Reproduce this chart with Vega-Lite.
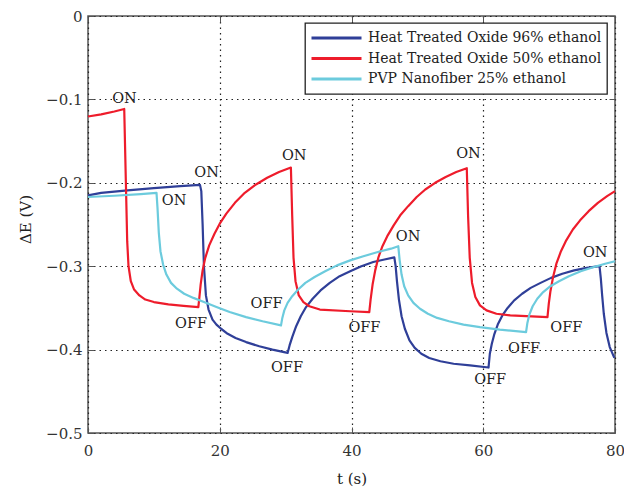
{
  "$schema": "https://vega.github.io/schema/vega-lite/v6.json",
  "width": 527,
  "height": 417,
  "autosize": {"type": "none"},
  "padding": {"left": 88, "top": 16, "right": 9, "bottom": 59},
  "background": "white",
  "config": {
    "font": "DejaVu Serif",
    "view": {"stroke": "#555", "strokeWidth": 1.5}
  },
  "datasets": {
    "curves": [
      {"s": "Heat Treated Oxide 96% ethanol", "t": 0, "v": -0.215},
      {"s": "Heat Treated Oxide 96% ethanol", "t": 2, "v": -0.212},
      {"s": "Heat Treated Oxide 96% ethanol", "t": 6, "v": -0.209},
      {"s": "Heat Treated Oxide 96% ethanol", "t": 10, "v": -0.2065},
      {"s": "Heat Treated Oxide 96% ethanol", "t": 14, "v": -0.204},
      {"s": "Heat Treated Oxide 96% ethanol", "t": 17.0, "v": -0.2025},
      {"s": "Heat Treated Oxide 96% ethanol", "t": 17.2, "v": -0.21},
      {"s": "Heat Treated Oxide 96% ethanol", "t": 17.4, "v": -0.25},
      {"s": "Heat Treated Oxide 96% ethanol", "t": 17.6, "v": -0.3},
      {"s": "Heat Treated Oxide 96% ethanol", "t": 17.9, "v": -0.335},
      {"s": "Heat Treated Oxide 96% ethanol", "t": 18.3, "v": -0.352},
      {"s": "Heat Treated Oxide 96% ethanol", "t": 18.9, "v": -0.364},
      {"s": "Heat Treated Oxide 96% ethanol", "t": 19.5, "v": -0.37},
      {"s": "Heat Treated Oxide 96% ethanol", "t": 20.2, "v": -0.375},
      {"s": "Heat Treated Oxide 96% ethanol", "t": 21.2, "v": -0.381},
      {"s": "Heat Treated Oxide 96% ethanol", "t": 22.4, "v": -0.386},
      {"s": "Heat Treated Oxide 96% ethanol", "t": 24, "v": -0.391},
      {"s": "Heat Treated Oxide 96% ethanol", "t": 26, "v": -0.396},
      {"s": "Heat Treated Oxide 96% ethanol", "t": 28, "v": -0.4},
      {"s": "Heat Treated Oxide 96% ethanol", "t": 30.3, "v": -0.404},
      {"s": "Heat Treated Oxide 96% ethanol", "t": 30.6, "v": -0.395},
      {"s": "Heat Treated Oxide 96% ethanol", "t": 31.0, "v": -0.385},
      {"s": "Heat Treated Oxide 96% ethanol", "t": 31.6, "v": -0.372},
      {"s": "Heat Treated Oxide 96% ethanol", "t": 32.3, "v": -0.36},
      {"s": "Heat Treated Oxide 96% ethanol", "t": 33.1, "v": -0.349},
      {"s": "Heat Treated Oxide 96% ethanol", "t": 34.1, "v": -0.339},
      {"s": "Heat Treated Oxide 96% ethanol", "t": 35.3, "v": -0.329},
      {"s": "Heat Treated Oxide 96% ethanol", "t": 36.7, "v": -0.32},
      {"s": "Heat Treated Oxide 96% ethanol", "t": 38.2, "v": -0.312},
      {"s": "Heat Treated Oxide 96% ethanol", "t": 39.8, "v": -0.306},
      {"s": "Heat Treated Oxide 96% ethanol", "t": 41.5, "v": -0.3},
      {"s": "Heat Treated Oxide 96% ethanol", "t": 43.3, "v": -0.295},
      {"s": "Heat Treated Oxide 96% ethanol", "t": 45, "v": -0.292},
      {"s": "Heat Treated Oxide 96% ethanol", "t": 46.5, "v": -0.2895},
      {"s": "Heat Treated Oxide 96% ethanol", "t": 46.7, "v": -0.3},
      {"s": "Heat Treated Oxide 96% ethanol", "t": 46.9, "v": -0.318},
      {"s": "Heat Treated Oxide 96% ethanol", "t": 47.2, "v": -0.34},
      {"s": "Heat Treated Oxide 96% ethanol", "t": 47.6, "v": -0.36},
      {"s": "Heat Treated Oxide 96% ethanol", "t": 48.1, "v": -0.375},
      {"s": "Heat Treated Oxide 96% ethanol", "t": 48.8, "v": -0.389},
      {"s": "Heat Treated Oxide 96% ethanol", "t": 49.6, "v": -0.398},
      {"s": "Heat Treated Oxide 96% ethanol", "t": 50.6, "v": -0.405},
      {"s": "Heat Treated Oxide 96% ethanol", "t": 51.8, "v": -0.41},
      {"s": "Heat Treated Oxide 96% ethanol", "t": 53.5, "v": -0.414},
      {"s": "Heat Treated Oxide 96% ethanol", "t": 55.5, "v": -0.417},
      {"s": "Heat Treated Oxide 96% ethanol", "t": 58, "v": -0.419},
      {"s": "Heat Treated Oxide 96% ethanol", "t": 60.8, "v": -0.4215},
      {"s": "Heat Treated Oxide 96% ethanol", "t": 61.0, "v": -0.405},
      {"s": "Heat Treated Oxide 96% ethanol", "t": 61.3, "v": -0.393},
      {"s": "Heat Treated Oxide 96% ethanol", "t": 61.7, "v": -0.381},
      {"s": "Heat Treated Oxide 96% ethanol", "t": 62.2, "v": -0.37},
      {"s": "Heat Treated Oxide 96% ethanol", "t": 62.9, "v": -0.359},
      {"s": "Heat Treated Oxide 96% ethanol", "t": 63.7, "v": -0.35},
      {"s": "Heat Treated Oxide 96% ethanol", "t": 64.7, "v": -0.341},
      {"s": "Heat Treated Oxide 96% ethanol", "t": 65.9, "v": -0.333},
      {"s": "Heat Treated Oxide 96% ethanol", "t": 67.2, "v": -0.326},
      {"s": "Heat Treated Oxide 96% ethanol", "t": 68.7, "v": -0.32},
      {"s": "Heat Treated Oxide 96% ethanol", "t": 70.3, "v": -0.314},
      {"s": "Heat Treated Oxide 96% ethanol", "t": 72, "v": -0.309},
      {"s": "Heat Treated Oxide 96% ethanol", "t": 73.8, "v": -0.305},
      {"s": "Heat Treated Oxide 96% ethanol", "t": 75.7, "v": -0.302},
      {"s": "Heat Treated Oxide 96% ethanol", "t": 77.65, "v": -0.3},
      {"s": "Heat Treated Oxide 96% ethanol", "t": 77.85, "v": -0.315},
      {"s": "Heat Treated Oxide 96% ethanol", "t": 78.05, "v": -0.335},
      {"s": "Heat Treated Oxide 96% ethanol", "t": 78.3, "v": -0.357},
      {"s": "Heat Treated Oxide 96% ethanol", "t": 78.7, "v": -0.38},
      {"s": "Heat Treated Oxide 96% ethanol", "t": 79.2, "v": -0.397},
      {"s": "Heat Treated Oxide 96% ethanol", "t": 79.9, "v": -0.41},

      {"s": "Heat Treated Oxide 50% ethanol", "t": 0, "v": -0.1205},
      {"s": "Heat Treated Oxide 50% ethanol", "t": 2, "v": -0.118},
      {"s": "Heat Treated Oxide 50% ethanol", "t": 4, "v": -0.1145},
      {"s": "Heat Treated Oxide 50% ethanol", "t": 5.5, "v": -0.1115},
      {"s": "Heat Treated Oxide 50% ethanol", "t": 5.75, "v": -0.2},
      {"s": "Heat Treated Oxide 50% ethanol", "t": 5.95, "v": -0.27},
      {"s": "Heat Treated Oxide 50% ethanol", "t": 6.15, "v": -0.3},
      {"s": "Heat Treated Oxide 50% ethanol", "t": 6.5, "v": -0.318},
      {"s": "Heat Treated Oxide 50% ethanol", "t": 7.0, "v": -0.328},
      {"s": "Heat Treated Oxide 50% ethanol", "t": 7.8, "v": -0.335},
      {"s": "Heat Treated Oxide 50% ethanol", "t": 8.7, "v": -0.34},
      {"s": "Heat Treated Oxide 50% ethanol", "t": 10, "v": -0.343},
      {"s": "Heat Treated Oxide 50% ethanol", "t": 12.2, "v": -0.3457},
      {"s": "Heat Treated Oxide 50% ethanol", "t": 14.5, "v": -0.3475},
      {"s": "Heat Treated Oxide 50% ethanol", "t": 16.75, "v": -0.349},
      {"s": "Heat Treated Oxide 50% ethanol", "t": 16.9, "v": -0.338},
      {"s": "Heat Treated Oxide 50% ethanol", "t": 17.1, "v": -0.322},
      {"s": "Heat Treated Oxide 50% ethanol", "t": 17.4, "v": -0.305},
      {"s": "Heat Treated Oxide 50% ethanol", "t": 17.8, "v": -0.29},
      {"s": "Heat Treated Oxide 50% ethanol", "t": 18.4, "v": -0.275},
      {"s": "Heat Treated Oxide 50% ethanol", "t": 19.2, "v": -0.261},
      {"s": "Heat Treated Oxide 50% ethanol", "t": 20.0, "v": -0.249},
      {"s": "Heat Treated Oxide 50% ethanol", "t": 21.0, "v": -0.237},
      {"s": "Heat Treated Oxide 50% ethanol", "t": 22.3, "v": -0.224},
      {"s": "Heat Treated Oxide 50% ethanol", "t": 23.8, "v": -0.212},
      {"s": "Heat Treated Oxide 50% ethanol", "t": 25.5, "v": -0.202},
      {"s": "Heat Treated Oxide 50% ethanol", "t": 27.2, "v": -0.194},
      {"s": "Heat Treated Oxide 50% ethanol", "t": 29.0, "v": -0.187},
      {"s": "Heat Treated Oxide 50% ethanol", "t": 30.8, "v": -0.1817},
      {"s": "Heat Treated Oxide 50% ethanol", "t": 31.0, "v": -0.24},
      {"s": "Heat Treated Oxide 50% ethanol", "t": 31.2, "v": -0.29},
      {"s": "Heat Treated Oxide 50% ethanol", "t": 31.5, "v": -0.318},
      {"s": "Heat Treated Oxide 50% ethanol", "t": 32.0, "v": -0.335},
      {"s": "Heat Treated Oxide 50% ethanol", "t": 32.7, "v": -0.343},
      {"s": "Heat Treated Oxide 50% ethanol", "t": 33.6, "v": -0.348},
      {"s": "Heat Treated Oxide 50% ethanol", "t": 35.2, "v": -0.352},
      {"s": "Heat Treated Oxide 50% ethanol", "t": 39.8, "v": -0.354},
      {"s": "Heat Treated Oxide 50% ethanol", "t": 42.7, "v": -0.355},
      {"s": "Heat Treated Oxide 50% ethanol", "t": 42.9, "v": -0.34},
      {"s": "Heat Treated Oxide 50% ethanol", "t": 43.2, "v": -0.322},
      {"s": "Heat Treated Oxide 50% ethanol", "t": 43.6, "v": -0.305},
      {"s": "Heat Treated Oxide 50% ethanol", "t": 44.1, "v": -0.289},
      {"s": "Heat Treated Oxide 50% ethanol", "t": 44.7, "v": -0.276},
      {"s": "Heat Treated Oxide 50% ethanol", "t": 45.5, "v": -0.263},
      {"s": "Heat Treated Oxide 50% ethanol", "t": 46.4, "v": -0.251},
      {"s": "Heat Treated Oxide 50% ethanol", "t": 47.4, "v": -0.239},
      {"s": "Heat Treated Oxide 50% ethanol", "t": 48.6, "v": -0.228},
      {"s": "Heat Treated Oxide 50% ethanol", "t": 49.9, "v": -0.217},
      {"s": "Heat Treated Oxide 50% ethanol", "t": 51.2, "v": -0.208},
      {"s": "Heat Treated Oxide 50% ethanol", "t": 52.7, "v": -0.2},
      {"s": "Heat Treated Oxide 50% ethanol", "t": 54.3, "v": -0.193},
      {"s": "Heat Treated Oxide 50% ethanol", "t": 55.9, "v": -0.187},
      {"s": "Heat Treated Oxide 50% ethanol", "t": 57.5, "v": -0.1825},
      {"s": "Heat Treated Oxide 50% ethanol", "t": 57.7, "v": -0.24},
      {"s": "Heat Treated Oxide 50% ethanol", "t": 57.95, "v": -0.29},
      {"s": "Heat Treated Oxide 50% ethanol", "t": 58.3, "v": -0.32},
      {"s": "Heat Treated Oxide 50% ethanol", "t": 58.8, "v": -0.337},
      {"s": "Heat Treated Oxide 50% ethanol", "t": 59.5, "v": -0.347},
      {"s": "Heat Treated Oxide 50% ethanol", "t": 60.5, "v": -0.353},
      {"s": "Heat Treated Oxide 50% ethanol", "t": 62.0, "v": -0.357},
      {"s": "Heat Treated Oxide 50% ethanol", "t": 64.1, "v": -0.359},
      {"s": "Heat Treated Oxide 50% ethanol", "t": 69.75, "v": -0.361},
      {"s": "Heat Treated Oxide 50% ethanol", "t": 69.95, "v": -0.345},
      {"s": "Heat Treated Oxide 50% ethanol", "t": 70.2, "v": -0.33},
      {"s": "Heat Treated Oxide 50% ethanol", "t": 70.6, "v": -0.313},
      {"s": "Heat Treated Oxide 50% ethanol", "t": 71.1, "v": -0.297},
      {"s": "Heat Treated Oxide 50% ethanol", "t": 71.8, "v": -0.282},
      {"s": "Heat Treated Oxide 50% ethanol", "t": 72.6, "v": -0.269},
      {"s": "Heat Treated Oxide 50% ethanol", "t": 73.6, "v": -0.256},
      {"s": "Heat Treated Oxide 50% ethanol", "t": 74.7, "v": -0.245},
      {"s": "Heat Treated Oxide 50% ethanol", "t": 76.0, "v": -0.234},
      {"s": "Heat Treated Oxide 50% ethanol", "t": 77.4, "v": -0.224},
      {"s": "Heat Treated Oxide 50% ethanol", "t": 78.8, "v": -0.216},
      {"s": "Heat Treated Oxide 50% ethanol", "t": 80, "v": -0.21},

      {"s": "PVP Nanofiber 25% ethanol", "t": 0, "v": -0.217},
      {"s": "PVP Nanofiber 25% ethanol", "t": 4, "v": -0.2155},
      {"s": "PVP Nanofiber 25% ethanol", "t": 8, "v": -0.2135},
      {"s": "PVP Nanofiber 25% ethanol", "t": 10.4, "v": -0.212},
      {"s": "PVP Nanofiber 25% ethanol", "t": 10.55, "v": -0.23},
      {"s": "PVP Nanofiber 25% ethanol", "t": 10.75, "v": -0.26},
      {"s": "PVP Nanofiber 25% ethanol", "t": 11.0, "v": -0.282},
      {"s": "PVP Nanofiber 25% ethanol", "t": 11.4, "v": -0.298},
      {"s": "PVP Nanofiber 25% ethanol", "t": 11.9, "v": -0.31},
      {"s": "PVP Nanofiber 25% ethanol", "t": 12.6, "v": -0.32},
      {"s": "PVP Nanofiber 25% ethanol", "t": 13.5, "v": -0.327},
      {"s": "PVP Nanofiber 25% ethanol", "t": 14.6, "v": -0.333},
      {"s": "PVP Nanofiber 25% ethanol", "t": 16.0, "v": -0.338},
      {"s": "PVP Nanofiber 25% ethanol", "t": 17.6, "v": -0.343},
      {"s": "PVP Nanofiber 25% ethanol", "t": 19.5, "v": -0.349},
      {"s": "PVP Nanofiber 25% ethanol", "t": 21.5, "v": -0.355},
      {"s": "PVP Nanofiber 25% ethanol", "t": 24.0, "v": -0.361},
      {"s": "PVP Nanofiber 25% ethanol", "t": 26.5, "v": -0.366},
      {"s": "PVP Nanofiber 25% ethanol", "t": 29.3, "v": -0.371},
      {"s": "PVP Nanofiber 25% ethanol", "t": 29.5, "v": -0.362},
      {"s": "PVP Nanofiber 25% ethanol", "t": 29.8, "v": -0.353},
      {"s": "PVP Nanofiber 25% ethanol", "t": 30.3, "v": -0.344},
      {"s": "PVP Nanofiber 25% ethanol", "t": 31.0, "v": -0.336},
      {"s": "PVP Nanofiber 25% ethanol", "t": 31.9, "v": -0.328},
      {"s": "PVP Nanofiber 25% ethanol", "t": 33.0, "v": -0.32},
      {"s": "PVP Nanofiber 25% ethanol", "t": 34.4, "v": -0.313},
      {"s": "PVP Nanofiber 25% ethanol", "t": 36.0, "v": -0.306},
      {"s": "PVP Nanofiber 25% ethanol", "t": 37.8, "v": -0.299},
      {"s": "PVP Nanofiber 25% ethanol", "t": 39.8, "v": -0.293},
      {"s": "PVP Nanofiber 25% ethanol", "t": 41.8, "v": -0.288},
      {"s": "PVP Nanofiber 25% ethanol", "t": 44.0, "v": -0.283},
      {"s": "PVP Nanofiber 25% ethanol", "t": 46.0, "v": -0.279},
      {"s": "PVP Nanofiber 25% ethanol", "t": 47.1, "v": -0.276},
      {"s": "PVP Nanofiber 25% ethanol", "t": 47.3, "v": -0.292},
      {"s": "PVP Nanofiber 25% ethanol", "t": 47.6, "v": -0.31},
      {"s": "PVP Nanofiber 25% ethanol", "t": 48.0, "v": -0.324},
      {"s": "PVP Nanofiber 25% ethanol", "t": 48.6, "v": -0.335},
      {"s": "PVP Nanofiber 25% ethanol", "t": 49.4, "v": -0.344},
      {"s": "PVP Nanofiber 25% ethanol", "t": 50.4, "v": -0.351},
      {"s": "PVP Nanofiber 25% ethanol", "t": 51.6, "v": -0.357},
      {"s": "PVP Nanofiber 25% ethanol", "t": 53.0, "v": -0.362},
      {"s": "PVP Nanofiber 25% ethanol", "t": 54.8, "v": -0.366},
      {"s": "PVP Nanofiber 25% ethanol", "t": 57.0, "v": -0.37},
      {"s": "PVP Nanofiber 25% ethanol", "t": 59.5, "v": -0.373},
      {"s": "PVP Nanofiber 25% ethanol", "t": 62.5, "v": -0.376},
      {"s": "PVP Nanofiber 25% ethanol", "t": 66.5, "v": -0.379},
      {"s": "PVP Nanofiber 25% ethanol", "t": 66.7, "v": -0.368},
      {"s": "PVP Nanofiber 25% ethanol", "t": 67.0, "v": -0.358},
      {"s": "PVP Nanofiber 25% ethanol", "t": 67.5, "v": -0.348},
      {"s": "PVP Nanofiber 25% ethanol", "t": 68.2, "v": -0.339},
      {"s": "PVP Nanofiber 25% ethanol", "t": 69.1, "v": -0.331},
      {"s": "PVP Nanofiber 25% ethanol", "t": 70.2, "v": -0.324},
      {"s": "PVP Nanofiber 25% ethanol", "t": 71.5, "v": -0.318},
      {"s": "PVP Nanofiber 25% ethanol", "t": 73.0, "v": -0.312},
      {"s": "PVP Nanofiber 25% ethanol", "t": 74.8, "v": -0.306},
      {"s": "PVP Nanofiber 25% ethanol", "t": 76.8, "v": -0.301},
      {"s": "PVP Nanofiber 25% ethanol", "t": 78.5, "v": -0.297},
      {"s": "PVP Nanofiber 25% ethanol", "t": 80, "v": -0.294}
    ],
    "labels": [
      {"t": 5.54, "v": -0.0996, "text": "ON"},
      {"t": 18.0, "v": -0.188, "text": "ON"},
      {"t": 13.06, "v": -0.222, "text": "ON"},
      {"t": 31.3, "v": -0.168, "text": "ON"},
      {"t": 48.6, "v": -0.265, "text": "ON"},
      {"t": 57.75, "v": -0.1657, "text": "ON"},
      {"t": 77.0, "v": -0.284, "text": "ON"},
      {"t": 15.64, "v": -0.369, "text": "OFF"},
      {"t": 27.1, "v": -0.3457, "text": "OFF"},
      {"t": 30.2, "v": -0.422, "text": "OFF"},
      {"t": 41.96, "v": -0.374, "text": "OFF"},
      {"t": 61.05, "v": -0.436, "text": "OFF"},
      {"t": 66.2, "v": -0.399, "text": "OFF"},
      {"t": 72.6, "v": -0.374, "text": "OFF"}
    ]
  },
  "resolve": {"axis": {"x": "independent", "y": "independent"}},
  "layer": [
    {
      "data": {"name": "curves"},
      "mark": {"type": "line", "strokeWidth": 2.2, "interpolate": "linear", "strokeJoin": "round"},
      "encoding": {
        "x": {
          "field": "t", "type": "quantitative",
          "scale": {"domain": [0, 80], "nice": false, "zero": false},
          "axis": {
            "values": [0, 20, 40, 60, 80],
            "title": "t (s)",
            "titleFontSize": 15, "titleFontWeight": "normal", "titleColor": "#222",
            "titleY": 45, "titleBaseline": "middle",
            "labelFontSize": 15, "labelColor": "#333",
            "labelPadding": 16, "labelFlush": false,
            "tickSize": -6, "tickColor": "#555",
            "domain": false,
            "grid": true, "gridDash": [1.5, 4], "gridColor": "#222", "gridWidth": 1.2, "gridOpacity": 1
          }
        },
        "y": {
          "field": "v", "type": "quantitative",
          "scale": {"domain": [-0.5, 0], "nice": false, "zero": false},
          "axis": {
            "values": [-0.5, -0.4, -0.3, -0.2, -0.1, 0],
            "format": ".1~f",
            "title": "ΔE  (V)",
            "titleFontSize": 15, "titleFontWeight": "normal", "titleColor": "#222",
            "titleX": -63, "titleY": 203, "titleAngle": -90, "titleAlign": "center", "titleBaseline": "middle",
            "labelFontSize": 15, "labelColor": "#333",
            "labelPadding": 12, "labelFlush": false,
            "tickSize": -6, "tickColor": "#555",
            "domain": false,
            "grid": true, "gridDash": [1.5, 4], "gridColor": "#222", "gridWidth": 1.2, "gridOpacity": 1
          }
        },
        "color": {
          "field": "s", "type": "nominal",
          "scale": {
            "domain": ["Heat Treated Oxide 96% ethanol", "Heat Treated Oxide 50% ethanol", "PVP Nanofiber 25% ethanol"],
            "range": ["#2f3f98", "#ee1c2b", "#6ccbdd"]
          },
          "legend": {
            "title": null,
            "orient": "none",
            "legendX": 217,
            "legendY": 7,
            "symbolType": "stroke",
            "symbolSize": 2500,
            "symbolStrokeWidth": 2.8,
            "clipHeight": 20,
            "rowPadding": 0.5,
            "labelOffset": 5,
            "labelFontSize": 14,
            "labelColor": "#222",
            "labelLimit": 400,
            "padding": 5,
            "fillColor": "white",
            "strokeColor": "#222",
            "encode": {"legend": {"update": {"strokeWidth": {"value": 1.3}}}}
          }
        }
      }
    },
    {
      "data": {"name": "labels"},
      "mark": {"type": "text", "fontSize": 14.5, "color": "#222", "align": "center", "baseline": "middle"},
      "encoding": {
        "x": {
          "field": "t", "type": "quantitative",
          "axis": {"orient": "top", "values": [0, 20, 40, 60, 80], "labels": false, "title": null, "tickSize": -6, "tickColor": "#555", "domain": false, "grid": false}
        },
        "y": {
          "field": "v", "type": "quantitative",
          "axis": {"orient": "right", "values": [-0.5, -0.4, -0.3, -0.2, -0.1, 0], "labels": false, "title": null, "tickSize": -6, "tickColor": "#555", "domain": false, "grid": false}
        },
        "text": {"field": "text"}
      }
    }
  ]
}
